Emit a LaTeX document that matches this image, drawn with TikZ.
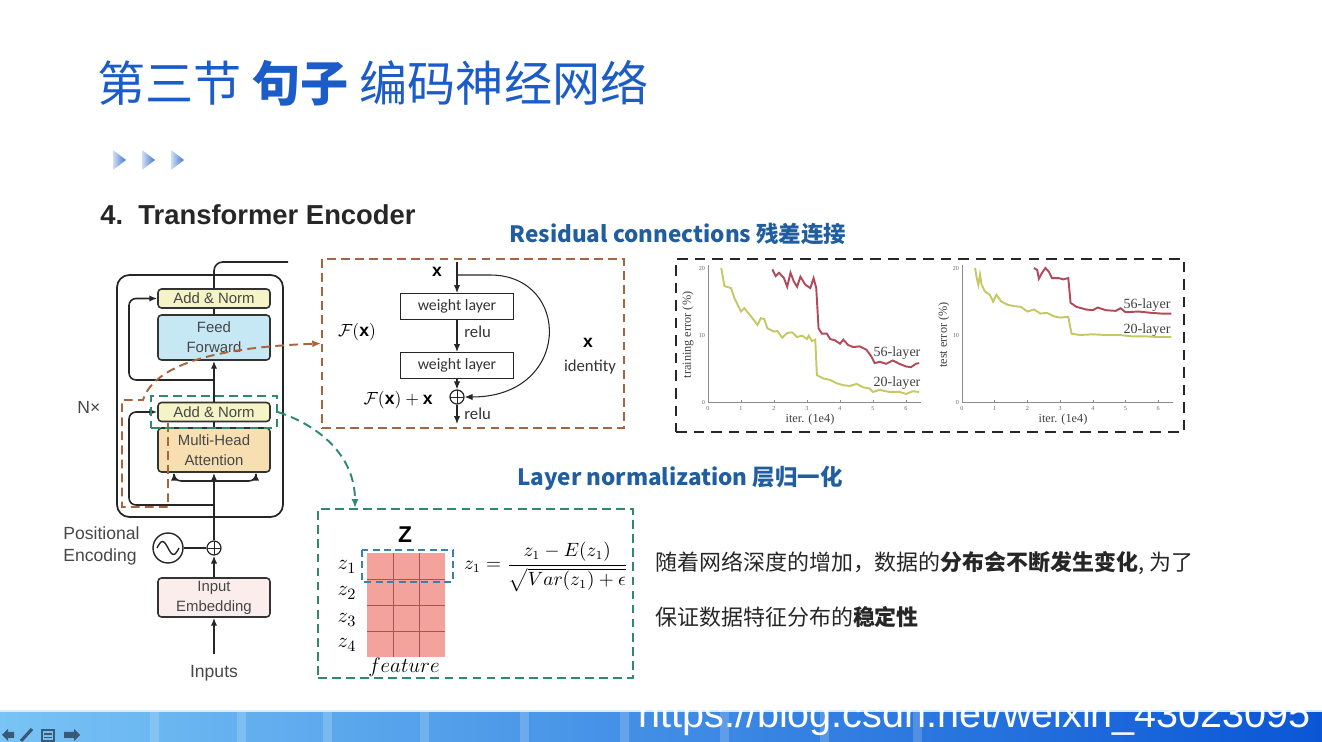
\documentclass[tikz,border=0pt]{standalone}
\usepackage{amsmath}
\usepackage{fontspec}
\setmainfont{Liberation Sans}
\newfontfamily\cjk{Noto Sans CJK SC}
\newfontfamily\calib{Carlito}
\newfontfamily\tnr{Liberation Serif}
\usetikzlibrary{positioning,fit,calc,arrows.meta}
\usepackage{xcolor}
\definecolor{titleblue}{HTML}{1B5CC8}
\definecolor{headblue}{HTML}{205EA0}
\definecolor{anfill}{HTML}{F4F4C6}
\definecolor{fffill}{HTML}{C6E7F4}
\definecolor{mhafill}{HTML}{F8DFB2}
\definecolor{embfill}{HTML}{FBEDEC}
\definecolor{resbrown}{HTML}{A8643C}
\definecolor{lngreen}{HTML}{2F8A6C}
\definecolor{c56}{HTML}{B24A5A}
\definecolor{c20}{HTML}{C6C866}
\definecolor{gridred}{HTML}{F4A29C}
\definecolor{gridline}{HTML}{A55555}
\definecolor{zblue}{HTML}{3B80A8}
\definecolor{barleft}{HTML}{78C4F4}
\definecolor{barmid}{HTML}{2E98EC}
\definecolor{barright}{HTML}{0A56D6}
\definecolor{iconcol}{HTML}{3A5878}

\begin{document}
\begin{tikzpicture}[x=0.02cm, y=-0.02cm,
    sub/.style={rectangle, rounded corners=2pt, draw=black!80, line width=0.9pt, fill=#1,
                minimum width=2.24cm, align=center, inner sep=1pt, text=black!72,
                font=\fontsize{8.5}{11.3}\selectfont},
    wl/.style={rectangle, draw=black!85, line width=0.6pt, minimum width=2.26cm,
               minimum height=0.52cm, text=black!80, font=\calib\fontsize{9}{10}\selectfont},
    oplus/.style={circle, draw=black!85, line width=0.7pt, minimum size=0.28cm, inner sep=0pt,
                  path picture={\draw[line width=0.5pt] (path picture bounding box.north) -- (path picture bounding box.south)
                                (path picture bounding box.west) -- (path picture bounding box.east);}},
    lbl/.style={inner sep=0pt, text=black!72, font=\fontsize{10}{12}\selectfont},
    clbl/.style={inner sep=0pt, text=black!80, font=\calib\fontsize{9.5}{11}\selectfont},
    mlbl/.style={inner sep=0pt, font=\fontsize{10}{12}\selectfont},
    chl/.style={inner sep=0pt, text=black!75, font=\tnr\fontsize{7}{8}\selectfont},
    tick/.style={inner sep=0pt, text=black!60, font=\tnr\fontsize{3.5}{4}\selectfont},
    zl/.style={inner sep=0pt, font=\fontsize{13}{14}\selectfont},
    head/.style={inner sep=0pt, text=headblue, font=\cjk\bfseries\fontsize{12.8}{14}\selectfont},
    body/.style={inner sep=0pt, anchor=west, text=black!85, font=\cjk\fontsize{12.5}{14}\selectfont},
    arr/.style={-{Latex[length=4.5pt,width=3.6pt]}},
    wire/.style={line width=0.9pt, draw=black!85},
    thinw/.style={line width=0.6pt, draw=black!85},
    brn/.style={dash pattern=on 5pt off 3pt, line width=1.1pt, draw=resbrown},
    grn/.style={dash pattern=on 5pt off 3pt, line width=1.1pt, draw=lngreen},
    blk/.style={dash pattern=on 6pt off 4pt, line width=1.3pt, draw=black!85},
    axis/.style={line width=0.35pt, draw=black!45}
]
\useasboundingbox (0,0) rectangle (1322,742);

% Title and headings
\node[anchor=west, inner sep=0pt, text=titleblue, font=\cjk\fontsize{27.4}{30}\selectfont] (title) at (97,83)
    {第三节 {\bfseries 句子} 编码神经网络};
\foreach \i in {0,1,2}
  \shade[left color=white!80!titleblue, right color=titleblue!85] ({113+29*\i},150) -- ({126+29*\i},160) -- ({113+29*\i},170) -- cycle;
\node[anchor=west, inner sep=0pt, text=black!85, font=\bfseries\fontsize{15.6}{17}\selectfont] (sec) at (100,215)
    {4.\ \ Transformer Encoder};
\node[head] (h1) at (678,234) {Residual connections 残差连接};
\node[head] (h2) at (680,478) {Layer normalization 层归一化};

% Left: encoder stack
\node[draw=black!85, line width=1pt, rounded corners=7pt, minimum width=3.32cm, minimum height=4.84cm] (enc) at (200,396) {};
\node[sub=anfill, minimum height=0.38cm] (an2) at (214,298.5) {Add \& Norm};
\node[sub=fffill, minimum height=0.9cm] (ff) at (214,337.5) {Feed\\Forward};
\node[sub=anfill, minimum height=0.38cm] (an1) at (214,412) {Add \& Norm};
\node[sub=mhafill, minimum height=0.88cm] (mha) at (214,450) {Multi-Head\\Attention};
\node[sub=embfill, minimum height=0.78cm] (emb) at (214,597.5) {Input\\Embedding};
\node[oplus] (add) at (214,548) {};
\node[circle, draw=black!85, line width=0.8pt, minimum size=0.6cm, inner sep=0pt] (pe) at (168,548) {};
\draw[line width=0.8pt, black!85] ([xshift=-0.22cm]pe.center) sin ++(0.11cm,0.13cm) cos ++(0.11cm,-0.13cm)
    sin ++(0.11cm,-0.13cm) cos ++(0.11cm,0.13cm);
\node[lbl, anchor=west] (nx) at (77,407) {N×};
\node[lbl, anchor=west, align=left] (pos) at (63,546) {Positional\\Encoding};
\node[lbl, inner ysep=6pt] (inp) at (214,673) {Inputs};

\coordinate (r1) at (214,505);
\coordinate (b1) at (214,481);
\coordinate (r2) at (214,380);
\coordinate (out) at (288,262);
\draw[wire, arr] (inp) -- (emb);
\draw[wire, arr] (emb) -- (add);
\draw[wire] (pe) -- (add);
\draw[wire, arr] (add) -- (mha);
\draw[wire, arr, rounded corners=4pt] (r1) -| (129,412) -- (an1);
\draw[wire, arr, rounded corners=4pt] (b1) -| ([xshift=-0.8cm]mha.south);
\draw[wire, arr, rounded corners=4pt] (b1) -| ([xshift=0.84cm]mha.south);
\draw[wire] (mha) -- (an1);
\draw[wire, arr] (an1) -- (ff);
\draw[wire, arr, rounded corners=4pt] (r2) -| (129,298.5) -- (an2);
\draw[wire] (ff) -- (an2);
\draw[wire, rounded corners=5pt] (an2) |- (out);

% Residual block
\node[brn, minimum width=6.04cm, minimum height=3.38cm] (resbox) at (473,343.5) {};
\node[wl] (w1) at (457,306.5) {weight layer};
\node[wl] (w2) at (457,365.5) {weight layer};
\node[oplus] (rsum) at (457,397) {};
\coordinate (xin) at (457,262);
\coordinate (xs) at (457,275);
\coordinate (xout) at (457,424);
\draw[thinw, arr] (xin) -- (w1);
\draw[thinw, arr] (w1) -- (w2);
\draw[thinw, arr] (w2) -- (rsum);
\draw[thinw, arr] (rsum) -- (xout);
\draw[thinw, arr] (xs) -- (490,275) .. controls (572,275) and (572,397) .. (rsum);
\node[mlbl] (xl) at (437,272) {$\mathbf{x}$};
\node[clbl, anchor=west] (relu1) at (464,332) {relu};
\node[clbl, anchor=west] (relu2) at (464,414) {relu};
\node[mlbl] (fx) at (357,332) {$\mathcal{F}(\mathbf{x})$};
\node[mlbl, anchor=east] (fxx) at (433,400) {$\mathcal{F}(\mathbf{x})+\mathbf{x}$};
\node[mlbl] (xid) at (588,343) {$\mathbf{x}$};
\node[clbl] (idl) at (590,367) {identity};

% links from the encoder
\coordinate (bs1) at (168,423);
\coordinate (bs2) at (143,400);
\draw[brn, -{Latex[length=5pt,width=4pt]}] (bs1) -- (168,507) -- (122,507) -- (122,400) -- (bs2)
    .. controls (152,372) and (195,348) .. (resbox.west);
\node[grn, fit=(an1), inner sep=0.12cm] (anbox) {};
\node[grn, minimum width=6.3cm, minimum height=3.38cm] (lnbox) at (475.5,593.5) {};
\coordinate (lnin) at (355,508);
\draw[grn, -{Latex[length=5pt,width=4pt]}] (anbox.east) .. controls (318,425) and (355,455) .. (lnin);

% Training curves
\node[blk, minimum width=10.16cm, minimum height=3.46cm] (chbox) at (930,345.5) {};
\begin{scope}[shift={(708,402)}, xscale=33, yscale=-6.7]
  \draw[axis] (0,20.5) -- (0,0) -- (6.45,0);
  \foreach \t in {0,...,6} {\draw[axis] (\t,0) -- (\t,0.3); \node[tick] at (\t,-0.9) {\t};}
  \foreach \v in {0,10,20} \node[tick, anchor=east] at (-0.08,\v) {\v};
  \draw[c20, line width=1.1pt] plot coordinates {(0.4,20) (0.5,17.3) (0.7,17) (0.8,15.5) (1.0,13.5) (1.1,14)
    (1.3,12.8) (1.5,11.5) (1.6,12.5) (1.7,12.4) (1.8,11) (2.0,10.5) (2.1,10.6) (2.25,9.6) (2.4,10.3) (2.55,10.4)
    (2.7,9.7) (2.85,9.9) (3.0,9.4) (3.05,9.9) (3.15,9.1) (3.25,9.3) (3.3,4.0) (3.5,3.5) (3.7,3.3) (3.9,2.8)
    (4.1,2.5) (4.3,2.4) (4.5,2.7) (4.7,2.2) (4.9,2.0) (5.0,1.5) (5.2,1.8) (5.5,1.5) (5.8,1.5) (6.0,1.2) (6.2,1.6) (6.4,1.5)};
  \draw[c56, line width=1.1pt] plot coordinates {(1.95,19.8) (2.05,18.8) (2.15,19.3) (2.3,18.5) (2.4,17.2) (2.5,19.3)
    (2.6,18) (2.7,17.2) (2.8,18.7) (2.95,17.5) (3.1,17) (3.2,18.5) (3.28,17) (3.35,11) (3.45,10.2) (3.6,10.2)
    (3.7,9.4) (3.85,9.2) (4.0,8.7) (4.1,9.3) (4.25,8.5) (4.4,8.2) (4.6,8.3) (4.8,7.8) (4.95,6.8) (5.05,5.8)
    (5.2,6.0) (5.4,5.7) (5.6,6.2) (5.8,5.7) (6.0,5.3) (6.15,5.2) (6.3,5.7) (6.4,5.8)};
\end{scope}
\begin{scope}[shift={(962,402)}, xscale=32.7, yscale=-6.7]
  \draw[axis] (0,20.5) -- (0,0) -- (6.45,0);
  \foreach \t in {0,...,6} {\draw[axis] (\t,0) -- (\t,0.3); \node[tick] at (\t,-0.9) {\t};}
  \foreach \v in {0,10,20} \node[tick, anchor=east] at (-0.08,\v) {\v};
  \draw[c20, line width=1.1pt] plot coordinates {(0.4,20) (0.45,18.5) (0.5,17.5) (0.55,19) (0.6,17.5) (0.7,16.5)
    (0.85,16) (0.95,15) (1.05,16) (1.2,15) (1.4,14.5) (1.6,14.3) (1.8,14.2) (2.0,13.5) (2.2,13.8) (2.4,13.2)
    (2.6,13.3) (2.8,12.8) (3.0,12.6) (3.25,12.7) (3.35,10.2) (3.6,10.0) (4.0,10.1) (4.4,10.0) (4.8,10.0)
    (5.2,9.8) (5.6,9.8) (6.0,9.7) (6.4,9.7)};
  \draw[c56, line width=1.1pt] plot coordinates {(2.2,20) (2.3,19.7) (2.35,18.4) (2.45,19.3) (2.55,20) (2.65,19.5)
    (2.75,18.5) (2.95,18.5) (3.1,18.3) (3.25,18.5) (3.32,14.8) (3.5,14.2) (3.8,13.8) (4.0,13.7) (4.15,14.1)
    (4.4,13.7) (4.7,13.6) (4.85,14) (5.0,13.4) (5.4,13.5) (5.8,13.3) (6.1,13.2) (6.4,13.2)};
\end{scope}
\node[chl, rotate=90] (yl1) at (688,335) {training error (\%)};
\node[chl, rotate=90] (yl2) at (944,335) {test error (\%)};
\node[chl] (xl1) at (810,420) {iter. (1e4)};
\node[chl] (xl2) at (1063,420) {iter. (1e4)};
\node[chl, font=\tnr\fontsize{8}{9}\selectfont] (l56a) at (897,353) {56-layer};
\node[chl, font=\tnr\fontsize{8}{9}\selectfont] (l20a) at (897,383) {20-layer};
\node[chl, font=\tnr\fontsize{8}{9}\selectfont] (l56b) at (1147,305) {56-layer};
\node[chl, font=\tnr\fontsize{8}{9}\selectfont] (l20b) at (1147,330) {20-layer};

% Layer normalization
\fill[gridred] (367,553) rectangle (445,657);
\foreach \k in {1,2} \draw[gridline, line width=0.5pt] ({367+26*\k},553) -- ({367+26*\k},657);
\foreach \k in {1,2,3} \draw[gridline, line width=0.5pt] (367,{553+26*\k}) -- (445,{553+26*\k});
\draw[zblue, dash pattern=on 4pt off 2.5pt, line width=1pt] (362,550) rectangle (453,582);
\node[zl] (zz) at (405,535) {$\mathbf{Z}$};
\foreach \k/\yy in {1/567,2/593,3/620,4/645} \node[zl] (z\k) at (347,\yy) {$z_{\k}$};
\node[zl] (feat) at (404,667) {$feature$};
\node[zl, font=\fontsize{10.7}{12}\selectfont] (norm) at (546,567)
    {$z_1=\dfrac{z_1-E(z_1)}{\sqrt{Var(z_1)+\epsilon}}$};

% Notes
\node[body] (p1) at (655,563) {随着网络深度的增加，数据的{\bfseries 分布会不断发生变化}, 为了};
\node[body] (p2) at (655,617) {保证数据特征分布的{\bfseries 稳定性}};

% Bottom bar
\shade[left color=barleft, middle color=barmid, right color=barright] (0,711) rectangle (1322,742);
\foreach \s in {150,237,323,420,520,620,720,820,913}
  \fill[white, opacity=0.18] (\s,712) rectangle ++(9,30);
\draw[white!70!barleft, line width=1.2pt] (0,711) -- (1322,711);
\fill[iconcol] (2,735) -- (8,729) -- (8,732) -- (14,732) -- (14,738) -- (8,738) -- (8,741) -- cycle;
\draw[iconcol, line width=1.8pt] (21,741) -- (32,729);
\draw[iconcol, line width=1pt] (42,730) rectangle (54,741) (44,734) -- (52,734) (44,737.5) -- (52,737.5);
\fill[iconcol] (80,735) -- (74,729) -- (74,732) -- (64,732) -- (64,738) -- (74,738) -- (74,741) -- cycle;
\node[anchor=base west, inner sep=0pt, text=white, font=\fontsize{22.5}{24}\selectfont] (url) at (638,727)
    {https://blog.csdn.net/weixin\_43023095};
\end{tikzpicture}
\end{document}
